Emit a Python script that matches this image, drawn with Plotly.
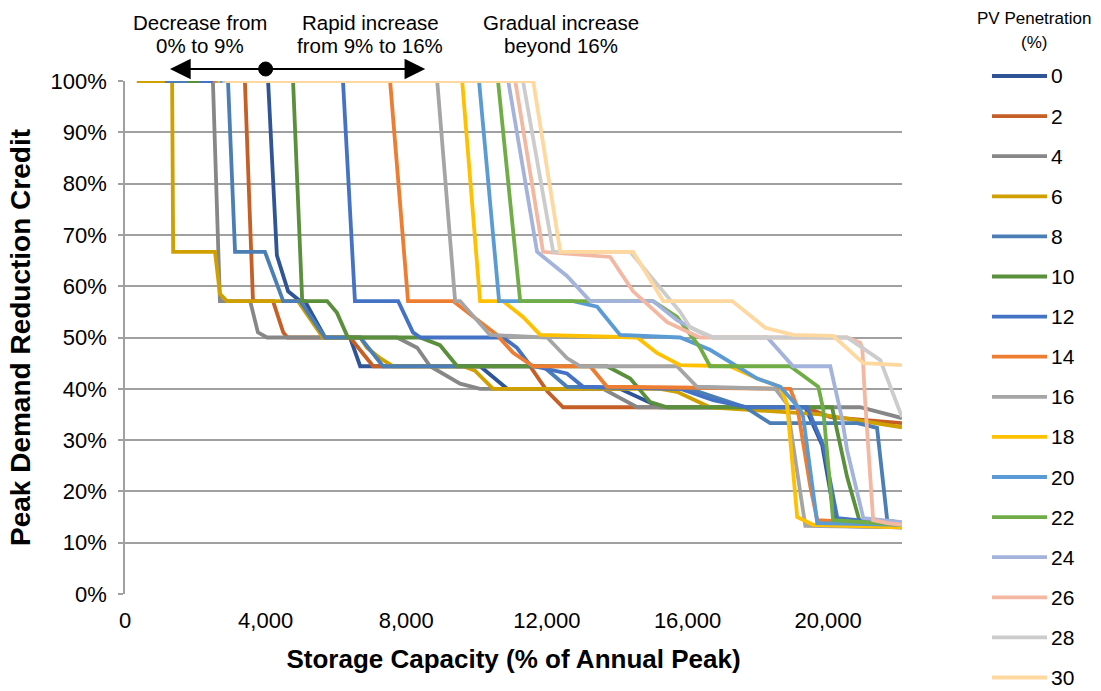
import plotly.graph_objects as go

# ---------------- data ----------------
pv_levels = [0, 2, 4, 6, 8, 10, 12, 14, 16, 18, 20, 22, 24, 26, 28, 30]

cap_pv0 = [340, 4070, 4320, 4640, 4980, 5120, 5690, 6400, 6690, 10100, 10870, 14080, 15220, 19350, 19830, 20230, 22100]
credit_pv0 = [100, 100, 66, 59, 57.1, 57.1, 50, 50, 44.4, 44.4, 40, 40, 36.4, 36.4, 29, 13.3, 13]

cap_pv2 = [340, 3410, 3640, 4210, 4500, 4620, 6400, 7060, 11520, 12010, 12460, 19350, 20060, 22100]
credit_pv2 = [100, 100, 57.1, 57.1, 51, 50, 50, 44.4, 44.4, 39.5, 36.4, 36.4, 34.5, 33.3]

cap_pv4 = [340, 2500, 2700, 3560, 3780, 4040, 7740, 8310, 8680, 9530, 10100, 13600, 14570, 20910, 22100]
credit_pv4 = [100, 100, 57.1, 57.1, 51, 50, 50, 48, 44.4, 41, 40, 40, 36.4, 36.4, 34.3]

cap_pv6 = [340, 1340, 1370, 2560, 2700, 2900, 4920, 5630, 6690, 6880, 7250, 7620, 9620, 9960, 10470,
           15220, 15700, 16360, 16640, 19770, 22100]
credit_pv6 = [100, 100, 66.7, 66.7, 58.5, 57.1, 57.1, 50, 50, 48, 46, 44.4, 44.4, 43.5, 40,
              40, 39.4, 37.2, 36.4, 35, 32.5]

cap_pv8 = [1140, 2930, 3130, 3980, 4500, 4980, 5690, 6690, 7340, 11890, 12570, 16070, 17640, 18350,
           20830, 21390, 21680, 22100]
credit_pv8 = [100, 100, 66.7, 66.7, 57.1, 57.1, 50, 50, 44.4, 44.4, 40.4, 40, 36.4, 33.3,
              33.3, 32.4, 14.4, 13.8]

cap_pv10 = [1790, 4780, 5040, 5750, 6030, 6340, 8390, 8960, 9450, 13710, 14370, 14940, 15420, 20110,
            20540, 20910, 22100]
credit_pv10 = [100, 100, 57.1, 57.1, 54.8, 50, 50, 48.5, 44.4, 44.4, 42, 37.4, 36.4, 36.4,
               22.8, 13.8, 13]

cap_pv12 = [2130, 6200, 6540, 7770, 8190, 8400, 10750, 11150, 11520, 12570, 13030, 15790, 16730, 17700,
            19400, 19860, 20260, 22100]
credit_pv12 = [100, 100, 57.1, 57.1, 51, 50, 50, 48, 44.6, 43, 40.4, 40, 37.8, 36.4,
               36.4, 29, 14.8, 13.5]

cap_pv14 = [2500, 7540, 8050, 9330, 10580, 11040, 11610, 13230, 13710, 18920, 19120, 19490, 19690, 22100]
credit_pv14 = [100, 100, 57.1, 57.1, 50.5, 47, 44.4, 44.4, 40.4, 40, 36.5, 21, 14.4, 13.5]

cap_pv16 = [2590, 8880, 9390, 9530, 10380, 12010, 12570, 12940, 15700, 16270, 18500, 18830, 19350, 22100]
credit_pv16 = [100, 100, 57.1, 57.1, 50.5, 50, 46, 44.4, 44.4, 40.4, 40, 37, 13.3, 13]

cap_pv18 = [2650, 9590, 10100, 10750, 11320, 11810, 14570, 15130, 15790, 17210, 17980, 18640, 18830,
            19120, 19570, 22100]
credit_pv18 = [100, 100, 57.1, 57.1, 54, 50.5, 50, 47, 44.6, 44.4, 42, 40.4, 37,
               15, 13.5, 13]

cap_pv20 = [2700, 10070, 10640, 12750, 13430, 14080, 15790, 16640, 17980, 18640, 19200, 19290, 19690, 22100]
credit_pv20 = [100, 100, 57.1, 57.1, 56, 50.5, 50, 47.6, 42, 40.4, 36, 34.5, 13.8, 13.5]

cap_pv22 = [2730, 10610, 11240, 15020, 15700, 16360, 16640, 18920, 19720, 19860, 20140, 22100]
credit_pv22 = [100, 100, 57.1, 57.1, 54, 48, 44.4, 44.4, 40.4, 36, 14.4, 13.5]

cap_pv24 = [2760, 10900, 11720, 12570, 13230, 15020, 15700, 16360, 16730, 18270, 19000, 20060, 20400,
            20540, 21000, 21480, 22100]
credit_pv24 = [100, 100, 66.7, 62, 57.1, 57.1, 53.4, 51, 50, 50, 44.4, 44.4, 34,
               28, 14.8, 14.4, 14]

cap_pv26 = [2790, 11100, 11890, 13800, 14450, 15420, 16360, 20540, 20910, 20970, 21050, 21280, 21680, 22100]
credit_pv26 = [100, 100, 66.7, 65.7, 59, 53, 50, 50, 49, 48, 37.8, 14.4, 13.8, 13.5]

cap_pv28 = [2820, 11320, 12180, 14370, 15790, 16070, 16730, 20540, 21480, 22100]
credit_pv28 = [100, 100, 66.7, 66.7, 55, 52, 50, 50, 45.6, 34.5]

cap_pv30 = [2850, 11610, 12380, 14450, 15310, 17270, 18210, 19000, 20140, 21000, 22100]
credit_pv30 = [100, 100, 66.7, 66.7, 57.1, 57.1, 51.9, 50.5, 50.3, 45, 44.6]

x_ticks = [0, 4000, 8000, 12000, 16000, 20000]
y_ticks = [0, 10, 20, 30, 40, 50, 60, 70, 80, 90, 100]
y_ticktext = [f"{v}%" for v in y_ticks]

legend_title_lines = ["PV Penetration", "(%)"]
phase_lines = [["Decrease from", "0% to 9%"], ["Rapid increase", "from 9% to 16%"],
               ["Gradual increase", "beyond 16%"]]
phase_centers = [2134, 6970, 12400]
arrow_left, arrow_mid, arrow_right = 1280, 4000, 8540

# ---------------- styling ----------------
colors = ['#2F5597', '#C65F26', '#878787', '#CFA000', '#4A7EB4', '#5A8F3C',
          '#4472C4', '#ED7D31', '#A5A5A5', '#FFC000', '#5B9BD5', '#70AD47',
          '#A3B3DB', '#F4B8A2', '#CCCCCC', '#FFD8A0']

caps = [cap_pv0, cap_pv2, cap_pv4, cap_pv6, cap_pv8, cap_pv10, cap_pv12, cap_pv14,
        cap_pv16, cap_pv18, cap_pv20, cap_pv22, cap_pv24, cap_pv26, cap_pv28, cap_pv30]
credits = [credit_pv0, credit_pv2, credit_pv4, credit_pv6, credit_pv8, credit_pv10, credit_pv12, credit_pv14,
           credit_pv16, credit_pv18, credit_pv20, credit_pv22, credit_pv24, credit_pv26, credit_pv28, credit_pv30]

W, H = 1101, 691
ML, MR, MT, MB = 125, 199, 81, 97
PW, PH = W - ML - MR, H - MT - MB


def px_to_paper_x(px):
    return (px - ML) / PW


def px_to_paper_y(py):
    return (H - MB - py) / PH


FONT = 'Liberation Sans, Arial, sans-serif'
fig = go.Figure()
for pv, xs, ys, c in zip(pv_levels, caps, credits, colors):
    fig.add_trace(go.Scatter(x=xs, y=ys, mode='lines', name=str(pv),
                             line=dict(color=c, width=3.8), showlegend=False))

annotations = []
shapes = []
for lines, cx in zip(phase_lines, phase_centers):
    for txt, py in zip(lines, (22, 45)):
        annotations.append(dict(x=cx, y=px_to_paper_y(py), xref='x', yref='paper', text=txt,
                                showarrow=False, font=dict(size=20.5, family=FONT, color='black'),
                                xanchor='center', yanchor='middle'))
arrow_y = px_to_paper_y(69)
for tip in (arrow_left, arrow_right):
    annotations.append(dict(x=tip, y=arrow_y, xref='x', yref='paper', ax=arrow_mid, ay=0,
                            axref='x', ayref='pixel', showarrow=True, arrowhead=2,
                            arrowsize=2.3, arrowwidth=1.8, arrowcolor='black', text=''))
shapes.append(dict(type='circle', xref='x', yref='paper', xsizemode='pixel', ysizemode='pixel',
                   xanchor=arrow_mid, yanchor=arrow_y, x0=-7, x1=7, y0=-7, y1=7,
                   fillcolor='black', line=dict(color='black', width=1)))

# legend drawn manually
for txt, py in zip(legend_title_lines, (18, 42)):
    annotations.append(dict(x=px_to_paper_x(1034), y=px_to_paper_y(py), xref='paper', yref='paper',
                            text=txt, showarrow=False,
                            font=dict(size=17, family=FONT, color='black'),
                            xanchor='center', yanchor='middle'))
for i, (pv, c) in enumerate(zip(pv_levels, colors)):
    py = 76 + 40.1 * i
    shapes.append(dict(type='line', xref='paper', yref='paper',
                       x0=px_to_paper_x(992), x1=px_to_paper_x(1047),
                       y0=px_to_paper_y(py), y1=px_to_paper_y(py),
                       line=dict(color=c, width=3.8)))
    annotations.append(dict(x=px_to_paper_x(1049), y=px_to_paper_y(py), xref='paper', yref='paper',
                            text=str(pv), showarrow=False, xanchor='left', yanchor='middle',
                            font=dict(size=21, family=FONT, color='black')))

fig.update_layout(
    width=W, height=H,
    margin=dict(l=ML, r=MR, t=MT, b=MB),
    plot_bgcolor='white', paper_bgcolor='white',
    font=dict(family=FONT, color='black'),
    annotations=annotations,
    shapes=shapes,
    showlegend=False,
)
fig.update_xaxes(range=[0, 22100], tickvals=x_ticks, tickformat=',d', showgrid=False,
                 zeroline=False, showline=False, ticks='', automargin=False,
                 ticklabelstandoff=11,
                 tickfont=dict(size=22, family=FONT),
                 title=dict(text='<b>Storage Capacity (% of Annual Peak)</b>',
                            font=dict(size=26, family=FONT), standoff=17))
fig.update_yaxes(range=[0, 100], tickvals=y_ticks, ticktext=y_ticktext, showgrid=True,
                 gridcolor='#A0A0A0', gridwidth=1.5, zeroline=False, automargin=False,
                 showline=True, linecolor='#A0A0A0', linewidth=1.5,
                 ticks='outside', ticklen=5, tickcolor='#A0A0A0', tickwidth=1.5,
                 ticklabelstandoff=7,
                 tickfont=dict(size=22, family=FONT),
                 title=dict(text='<b>Peak Demand Reduction Credit</b>',
                            font=dict(size=28, family=FONT), standoff=12))

fig.write_html("out.html", config={'displayModeBar': False},
               post_script="document.body.style.margin='0';document.body.style.padding='0';")
